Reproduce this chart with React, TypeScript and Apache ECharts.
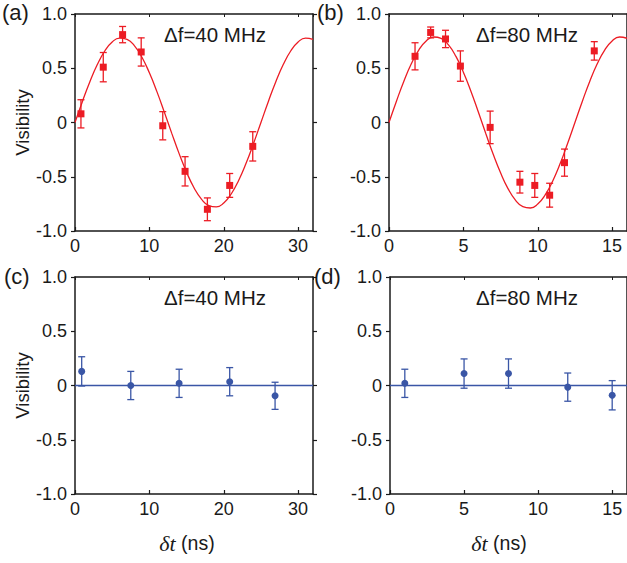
import React, { useEffect, useRef } from "react";
import * as echarts from "echarts";

// ---- data ----
const aTime = [0.8, 3.8, 6.4, 8.9, 11.8, 14.8, 17.8, 20.8, 23.9];
const aVis = [0.08, 0.51, 0.81, 0.65, -0.03, -0.45, -0.8, -0.58, -0.22];
const aErr = [0.13, 0.135, 0.075, 0.13, 0.13, 0.135, 0.105, 0.11, 0.135];

const bTime = [1.75, 2.8, 3.8, 4.8, 6.8, 8.8, 9.8, 10.8, 11.8, 13.8];
const bVis = [0.61, 0.83, 0.77, 0.52, -0.045, -0.55, -0.58, -0.67, -0.37, 0.66];
const bErr = [0.125, 0.05, 0.08, 0.14, 0.15, 0.1, 0.11, 0.11, 0.125, 0.085];

const cTime = [0.9, 7.5, 14.0, 20.8, 26.9];
const cVis = [0.13, 0.0, 0.02, 0.035, -0.095];
const cErr = [0.135, 0.13, 0.13, 0.13, 0.125];

const dTime = [1.0, 5.0, 8.0, 12.0, 15.0];
const dVis = [0.02, 0.11, 0.11, -0.015, -0.09];
const dErr = [0.13, 0.135, 0.135, 0.13, 0.135];

// fitted curves
const aFitTime = [0, 1, 2, 3, 4, 5, 6, 7, 8, 9, 10, 11, 12, 13, 14, 15, 16, 17, 18, 19, 20, 21, 22, 23, 24, 25, 26, 27, 28, 29, 30, 31, 32];
const aFitVis = [0, 0.194, 0.376, 0.534, 0.659, 0.742, 0.778, 0.766, 0.706, 0.601, 0.458, 0.287, 0.098, -0.098, -0.287, -0.458, -0.601, -0.706, -0.766, -0.778, -0.742, -0.659, -0.534, -0.376, -0.194, 0, 0.194, 0.376, 0.534, 0.659, 0.742, 0.778, 0.766];

const bFitTime = [0, 0.5, 1, 1.5, 2, 2.5, 3, 3.5, 4, 4.5, 5, 5.5, 6, 6.5, 7, 7.5, 8, 8.5, 9, 9.5, 10, 10.5, 11, 11.5, 12, 12.5, 13, 13.5, 14, 14.5, 15, 15.5, 16];
const bFitVis = [0, 0.196, 0.381, 0.541, 0.667, 0.751, 0.788, 0.776, 0.715, 0.609, 0.464, 0.291, 0.099, -0.099, -0.291, -0.464, -0.609, -0.715, -0.776, -0.788, -0.751, -0.667, -0.541, -0.381, -0.196, 0, 0.196, 0.381, 0.541, 0.667, 0.751, 0.788, 0.776];

const cFitTime = [0, 32];
const cFitVis = [0, 0];
const dFitTime = [0, 16];
const dFitVis = [0, 0];

const panelLabels = ["(a)", "(b)", "(c)", "(d)"];
const freqLabels = ["\u0394f=40 MHz", "\u0394f=80 MHz", "\u0394f=40 MHz", "\u0394f=80 MHz"];
const yTitle = "Visibility";
const xTitle = "\u03b4t";
const xUnit = " (ns)";

const RED = "#ec1c24";
const BLUE = "#3a56a6";
const AX = "#1a1a1a";
const SANS = "'Liberation Sans', Arial, Helvetica, sans-serif";
const SERIF = "'Liberation Serif', 'Times New Roman', serif";

const zip = (xs: number[], ys: number[]) => xs.map((x, i) => [x, ys[i]]);
const zip3 = (xs: number[], ys: number[], es: number[]) => xs.map((x, i) => [x, ys[i], es[i]]);

export default function App() {
  const ref = useRef<HTMLDivElement>(null);
  useEffect(() => {
    if (!ref.current) return;
    const chart = echarts.init(ref.current, undefined, { renderer: "svg" });

    const grids = [
      { left: 75, top: 14, width: 238, height: 217 },
      { left: 389, top: 14, width: 240, height: 217 },
      { left: 75, top: 277, width: 238, height: 217 },
      { left: 390, top: 277, width: 240, height: 217 },
    ];
    const xMax = [32, 16, 32, 16];
    const xInt = [10, 5, 10, 5];

    const xAxes: any[] = [];
    const yAxes: any[] = [];
    grids.forEach((_, i) => {
      xAxes.push({
        type: "value", gridIndex: i, position: "bottom", min: 0, max: xMax[i], interval: xInt[i],
        axisLine: { show: true, onZero: false, lineStyle: { color: AX, width: 1.5 } },
        axisTick: { show: true, inside: true, length: 4, lineStyle: { color: AX, width: 1.2 } },
        axisLabel: { show: true, fontSize: 18, fontFamily: SANS, color: AX, margin: 6, showMaxLabel: false },
        splitLine: { show: false },
      });
      xAxes.push({
        type: "value", gridIndex: i, position: "top", min: 0, max: xMax[i], interval: xInt[i],
        axisLine: { show: true, onZero: false, lineStyle: { color: AX, width: 1.5 } },
        axisTick: { show: true, inside: true, length: 3, lineStyle: { color: AX, width: 1 } },
        axisLabel: { show: false },
        splitLine: { show: false },
      });
      yAxes.push({
        type: "value", gridIndex: i, position: "left", min: -1, max: 1, interval: 0.5,
        name: i === 0 || i === 2 ? yTitle : "",
        nameLocation: "middle", nameGap: 42,
        nameTextStyle: { fontSize: 18.5, fontFamily: SANS, color: AX },
        axisLine: { show: true, onZero: false, lineStyle: { color: AX, width: 1.5 } },
        axisTick: { show: true, inside: false, length: 4, lineStyle: { color: AX, width: 1.2 } },
        axisLabel: {
          show: true, fontSize: 18, fontFamily: SANS, color: AX, margin: 8,
          formatter: (v: number) => (Math.abs(v) < 1e-9 ? "0" : v.toFixed(1)),
        },
        splitLine: { show: false },
      });
      yAxes.push({
        type: "value", gridIndex: i, position: "right", min: -1, max: 1, interval: 0.5,
        axisLine: { show: true, onZero: false, lineStyle: { color: AX, width: 1.5 } },
        axisTick: { show: true, inside: false, length: 4, lineStyle: { color: AX, width: 1.2 } },
        axisLabel: { show: false },
        splitLine: { show: false },
      });
    });

    const errSeries = (idx: number, data: number[][], color: string) => ({
      type: "custom",
      xAxisIndex: idx * 2,
      yAxisIndex: idx * 2,
      encode: { x: 0, y: 1 },
      data,
      z: 3,
      renderItem: (_p: any, api: any) => {
        const x = api.value(0), y = api.value(1), e = api.value(2);
        const t = api.coord([x, y + e]);
        const b = api.coord([x, y - e]);
        const hw = 3.5;
        const st = { stroke: color, lineWidth: 1.3, fill: "none" };
        return {
          type: "group",
          children: [
            { type: "line", shape: { x1: t[0], y1: t[1], x2: b[0], y2: b[1] }, style: st },
            { type: "line", shape: { x1: t[0] - hw, y1: t[1], x2: t[0] + hw, y2: t[1] }, style: st },
            { type: "line", shape: { x1: b[0] - hw, y1: b[1], x2: b[0] + hw, y2: b[1] }, style: st },
          ],
        };
      },
    });

    const fitSeries = (idx: number, data: number[][], color: string, width: number) => ({
      type: "line",
      xAxisIndex: idx * 2,
      yAxisIndex: idx * 2,
      data,
      smooth: true,
      showSymbol: false,
      lineStyle: { color, width },
      z: 2,
      silent: true,
    });

    const ptSeries = (idx: number, data: number[][], color: string, symbol: string) => ({
      type: "scatter",
      xAxisIndex: idx * 2,
      yAxisIndex: idx * 2,
      data,
      symbol,
      symbolSize: 7,
      itemStyle: { color, opacity: 1 },
      z: 4,
    });

    const series = [
      fitSeries(0, zip(aFitTime, aFitVis), RED, 1.3),
      errSeries(0, zip3(aTime, aVis, aErr), RED),
      ptSeries(0, zip(aTime, aVis), RED, "rect"),
      fitSeries(1, zip(bFitTime, bFitVis), RED, 1.3),
      errSeries(1, zip3(bTime, bVis, bErr), RED),
      ptSeries(1, zip(bTime, bVis), RED, "rect"),
      fitSeries(2, zip(cFitTime, cFitVis), BLUE, 1.5),
      errSeries(2, zip3(cTime, cVis, cErr), BLUE),
      ptSeries(2, zip(cTime, cVis), BLUE, "circle"),
      fitSeries(3, zip(dFitTime, dFitVis), BLUE, 1.5),
      errSeries(3, zip3(dTime, dVis, dErr), BLUE),
      ptSeries(3, zip(dTime, dVis), BLUE, "circle"),
    ];

    const labelPos = [[2, 12], [317, 12], [4, 276], [314, 276]];
    const freqPos = [[215, 34], [527, 34], [215, 297], [527, 297]];
    const xTitlePos = [[187, 543], [499, 543]];

    const graphic: any[] = [];
    panelLabels.forEach((t, i) => {
      graphic.push({
        type: "text", x: labelPos[i][0], y: labelPos[i][1],
        style: { text: t, fontSize: 22, fontFamily: SANS, fill: AX, textAlign: "left", textVerticalAlign: "middle" },
      });
    });
    freqLabels.forEach((t, i) => {
      graphic.push({
        type: "text", x: freqPos[i][0], y: freqPos[i][1],
        style: { text: t, fontSize: 20.5, fontFamily: SANS, fill: AX, textAlign: "center", textVerticalAlign: "middle" },
      });
    });
    xTitlePos.forEach((p) => {
      graphic.push({
        type: "text", x: p[0], y: p[1],
        style: {
          text: "{i|" + xTitle + "}{n|" + xUnit + "}",
          textAlign: "center", textVerticalAlign: "middle",
          rich: {
            i: { fontSize: 22, fontFamily: SERIF, fontStyle: "italic", fill: AX },
            n: { fontSize: 19.5, fontFamily: SANS, fill: AX },
          },
        },
      });
    });

    chart.setOption({
      animation: false,
      backgroundColor: "#ffffff",
      grid: grids,
      xAxis: xAxes,
      yAxis: yAxes,
      series,
      graphic,
    });
    return () => chart.dispose();
  }, []);

  return (
    <div
      ref={ref}
      style={{ position: "fixed", left: 0, top: 0, width: 627, height: 563, background: "#fff" }}
    />
  );
}
